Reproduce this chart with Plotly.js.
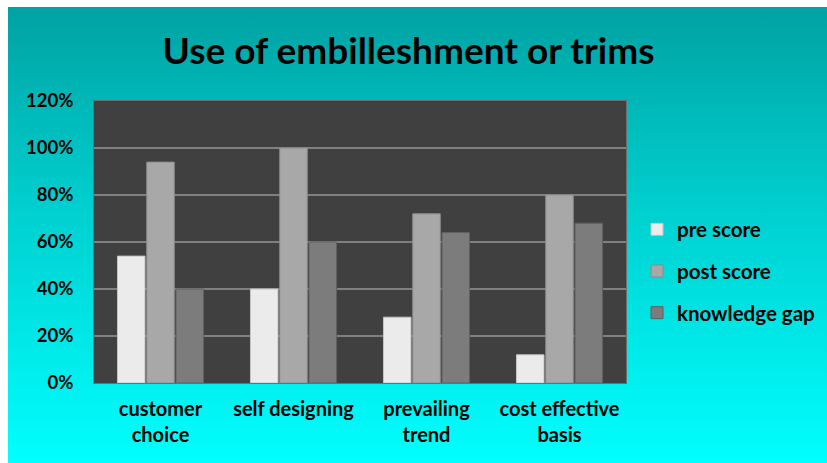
<!DOCTYPE html>
<html>
<head>
<meta charset="utf-8">
<script src="https://cdn.plot.ly/plotly-3.0.1.min.js"></script>
<style>
  html, body { margin: 0; padding: 0; background: #ffffff; width: 827px; height: 463px; overflow: hidden; }
  #chart { position: absolute; left: 8px; top: 7px; width: 819px; height: 456px;
           background: linear-gradient(to bottom, #00a2a2 0%, #00d0d0 45%, #00ffff 100%); }
</style>
</head>
<body>
<div id="chart"></div>
<script>
const categories = ["customer<br>choice", "self designing", "prevailing<br>trend", "cost effective<br>basis"];
const preScore = [0.54, 0.40, 0.28, 0.12];
const postScore = [0.94, 1.00, 0.72, 0.80];
const knowledgeGap = [0.40, 0.60, 0.64, 0.68];
const seriesNames = ["pre score", "post score", "knowledge gap"];
const tickVals = [0, 0.2, 0.4, 0.6, 0.8, 1.0, 1.2];
const tickText = ["0%", "20%", "40%", "60%", "80%", "100%", "120%"];

const colors = ["#ebebeb", "#a8a8a8", "#7c7c7c"];
const lineColors = ["#c4c4c4", "#8c8c8c", "#606060"];
const series = [preScore, postScore, knowledgeGap];

const font = "Lato, 'Open Sans', sans-serif";

const traces = series.map((vals, i) => ({
  type: "bar",
  name: seriesNames[i],
  legendgroup: "g" + i,
  x: categories,
  y: vals,
  marker: { color: colors[i], line: { color: lineColors[i], width: 1 } },
  hoverinfo: "skip"
}));

const layout = {
  width: 819,
  height: 456,
  paper_bgcolor: "rgba(0,0,0,0)",
  plot_bgcolor: "#404040",
  margin: { l: 86, r: 201, t: 94, b: 80 },
  barmode: "group",
  bargap: 0.34,
  bargroupgap: 0.06,
  title: {
    text: "<b>Use of embilleshment or trims</b>",
    font: { family: font, size: 37, color: "#000000" },
    x: 0.489, xref: "container", xanchor: "center",
    y: 1 - 44.5 / 456, yref: "container", yanchor: "middle",
    automargin: false
  },
  xaxis: {
    tickfont: { family: font, size: 20, color: "#000000", weight: "bold" },
    showgrid: false,
    showline: true, linecolor: "#6e6e6e", linewidth: 1, mirror: true,
    ticks: "", ticklen: 0,
    ticklabelstandoff: 8,
    automargin: false
  },
  yaxis: {
    range: [0, 1.2],
    tickvals: tickVals,
    ticktext: tickText,
    tickfont: { family: font, size: 18.5, color: "#000000", weight: "bold" },
    gridcolor: "#808080", gridwidth: 1.5,
    showline: true, linecolor: "#6e6e6e", linewidth: 1, mirror: true,
    zeroline: false,
    ticks: "", ticklen: 0,
    ticklabelstandoff: 16,
    automargin: false
  },
  legend: {
    xref: "container",
    x: 629 / 819, xanchor: "left",
    y: 0.397, yanchor: "middle",
    font: { family: font, size: 20.5, color: "#000000", weight: "bold" },
    bgcolor: "rgba(0,0,0,0)",
    traceorder: "grouped",
    tracegroupgap: 12,
    itemwidth: 30
  },
  showlegend: true
};

Plotly.newPlot("chart", traces, layout, { displayModeBar: false, staticPlot: true });
</script>
</body>
</html>
